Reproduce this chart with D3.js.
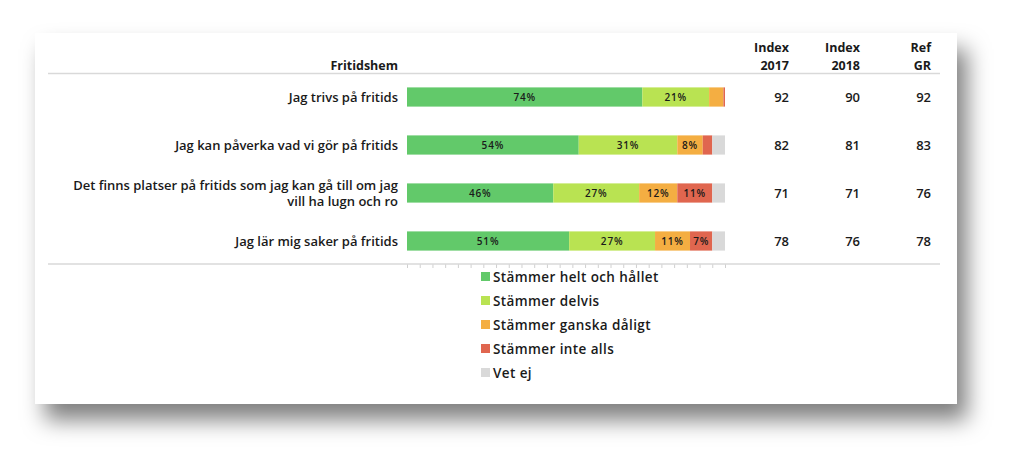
<!DOCTYPE html>
<html>
<head>
<meta charset="utf-8">
<title>Fritidshem</title>
<script src="https://cdn.jsdelivr.net/npm/d3@7/dist/d3.min.js"></script>
<style>
  body { margin: 0; background: #fff; }
  svg text { font-family: "Open Sans", sans-serif; fill: #1a1a1a; }
</style>
</head>
<body>
<script>
// data
var questions = [
  ["Jag trivs på fritids"],
  ["Jag kan påverka vad vi gör på fritids"],
  ["Det finns platser på fritids som jag kan gå till om jag", "vill ha lugn och ro"],
  ["Jag lär mig saker på fritids"]
];
var categories = ["Stämmer helt och hållet", "Stämmer delvis", "Stämmer ganska dåligt", "Stämmer inte alls", "Vet ej"];
var colors = ["#62c96a", "#b9e352", "#f4ae42", "#e0664f", "#d9d9d9"];
var helt    = [74, 54, 46, 51];
var delvis  = [21, 31, 27, 27];
var daligt  = [4.5, 8, 12, 11];
var inteAlls = [0.5, 3, 11, 7];
var vetEj   = [0, 4, 4, 4];
var index2017 = [92, 82, 71, 78];
var index2018 = [90, 81, 71, 76];
var refGR     = [92, 83, 76, 78];
var colHeads = [["Index", "2017"], ["Index", "2018"], ["Ref", "GR"]];

var width = 1024, height = 472;
var series = [helt, delvis, daligt, inteAlls, vetEj];
var rows = questions.map(function(q, i) {
  var r = { i: i };
  categories.forEach(function(c, k) { r[c] = series[k][i]; });
  return r;
});
var stacked = d3.stack().keys(categories)(rows);

var svg = d3.select("body").append("svg")
  .attr("width", width).attr("height", height);

var defs = svg.append("defs");
var f = defs.append("filter").attr("id", "shadow")
  .attr("x", "-10%").attr("y", "-10%").attr("width", "130%").attr("height", "140%");
f.append("feDropShadow").attr("dx", 10).attr("dy", 16).attr("stdDeviation", 11)
  .attr("flood-color", "#000").attr("flood-opacity", 0.5);

// card
svg.append("rect")
  .attr("x", 35).attr("y", 33).attr("width", 922).attr("height", 371)
  .attr("fill", "#fff").attr("filter", "url(#shadow)");

var x = d3.scaleLinear().domain([0, 100]).range([407, 725]);
var y = d3.scaleBand().domain(d3.range(questions.length)).range([73, 265]).paddingInner(0.6).paddingOuter(0.3);

// header line
svg.append("line").attr("x1", 48).attr("x2", 940).attr("y1", 73.5).attr("y2", 73.5)
  .attr("stroke", "#d9d9d9").attr("stroke-width", 1.5);

svg.append("text").attr("x", 398).attr("y", 70).attr("text-anchor", "end")
  .attr("font-size", 12.5).attr("font-weight", 700).text("Fritidshem");

// bars
var layer = svg.selectAll("g.layer").data(stacked).enter().append("g")
  .attr("class", "layer").attr("fill", function(d, k) { return colors[k]; });

layer.selectAll("rect").data(function(d) { return d; }).enter().append("rect")
  .attr("x", function(d) { return x(d[0]); })
  .attr("width", function(d) { return x(d[1]) - x(d[0]); })
  .attr("y", function(d, i) { return y(i); })
  .attr("height", y.bandwidth());

layer.selectAll("text").data(function(d) { return d; }).enter()
  .filter(function(d) { return d[1] - d[0] >= 6; })
  .append("text")
  .attr("x", function(d) { return (x(d[0]) + x(d[1])) / 2; })
  .attr("y", function(d) { return y(d.data.i) + y.bandwidth() / 2; })
  .attr("dy", "0.35em").attr("text-anchor", "middle")
  .attr("font-size", 10).attr("font-weight", 600).attr("letter-spacing", 0.8)
  .text(function(d) { return Math.round(d[1] - d[0]) + "%"; });

// question labels
svg.selectAll("text.q").data(questions).enter().append("text")
  .attr("class", "q").attr("text-anchor", "end").attr("font-size", 13).attr("font-weight", 600)
  .attr("y", function(d, i) { return y(i) + y.bandwidth() / 2 - (d.length - 1) * 8; })
  .each(function(d) {
    var t = d3.select(this);
    d.forEach(function(line, j) {
      t.append("tspan").attr("x", 398).attr("dy", j === 0 ? "0.35em" : "16px").text(line);
    });
  });

// axis with ticks
var axis = d3.axisBottom(x).tickValues(d3.range(0, 101, 4)).tickSize(4).tickFormat("");
var ag = svg.append("g").attr("transform", "translate(0,264)").call(axis);
ag.select(".domain").remove();
ag.selectAll("line").attr("stroke", "#d0d0d0");
svg.append("line").attr("x1", 48).attr("x2", 940).attr("y1", 264).attr("y2", 264)
  .attr("stroke", "#d9d9d9").attr("stroke-width", 1.5);

// index columns
var colX = [789, 860, 931];
var colData = [index2017, index2018, refGR];
colHeads.forEach(function(h, c) {
  var t = svg.append("text").attr("text-anchor", "end").attr("font-size", 12.5).attr("font-weight", 700);
  t.append("tspan").attr("x", colX[c]).attr("y", 52).text(h[0]);
  t.append("tspan").attr("x", colX[c]).attr("y", 70).text(h[1]);
  svg.selectAll(null).data(colData[c]).enter().append("text")
    .attr("x", colX[c]).attr("text-anchor", "end").attr("font-size", 13).attr("font-weight", 600)
    .attr("y", function(d, i) { return y(i) + y.bandwidth() / 2; }).attr("dy", "0.35em")
    .text(function(d) { return d; });
});

// legend
var leg = svg.selectAll("g.leg").data(categories).enter().append("g")
  .attr("class", "leg")
  .attr("transform", function(d, k) { return "translate(481," + (277 + k * 24) + ")"; });
leg.append("rect").attr("x", 0).attr("y", -5).attr("width", 9).attr("height", 9)
  .attr("fill", function(d, k) { return colors[k]; });
leg.append("text").attr("x", 12).attr("dy", "0.35em").attr("font-size", 13.5).attr("font-weight", 600)
  .attr("letter-spacing", 0.4)
  .text(function(d) { return d; });
</script>
</body>
</html>
